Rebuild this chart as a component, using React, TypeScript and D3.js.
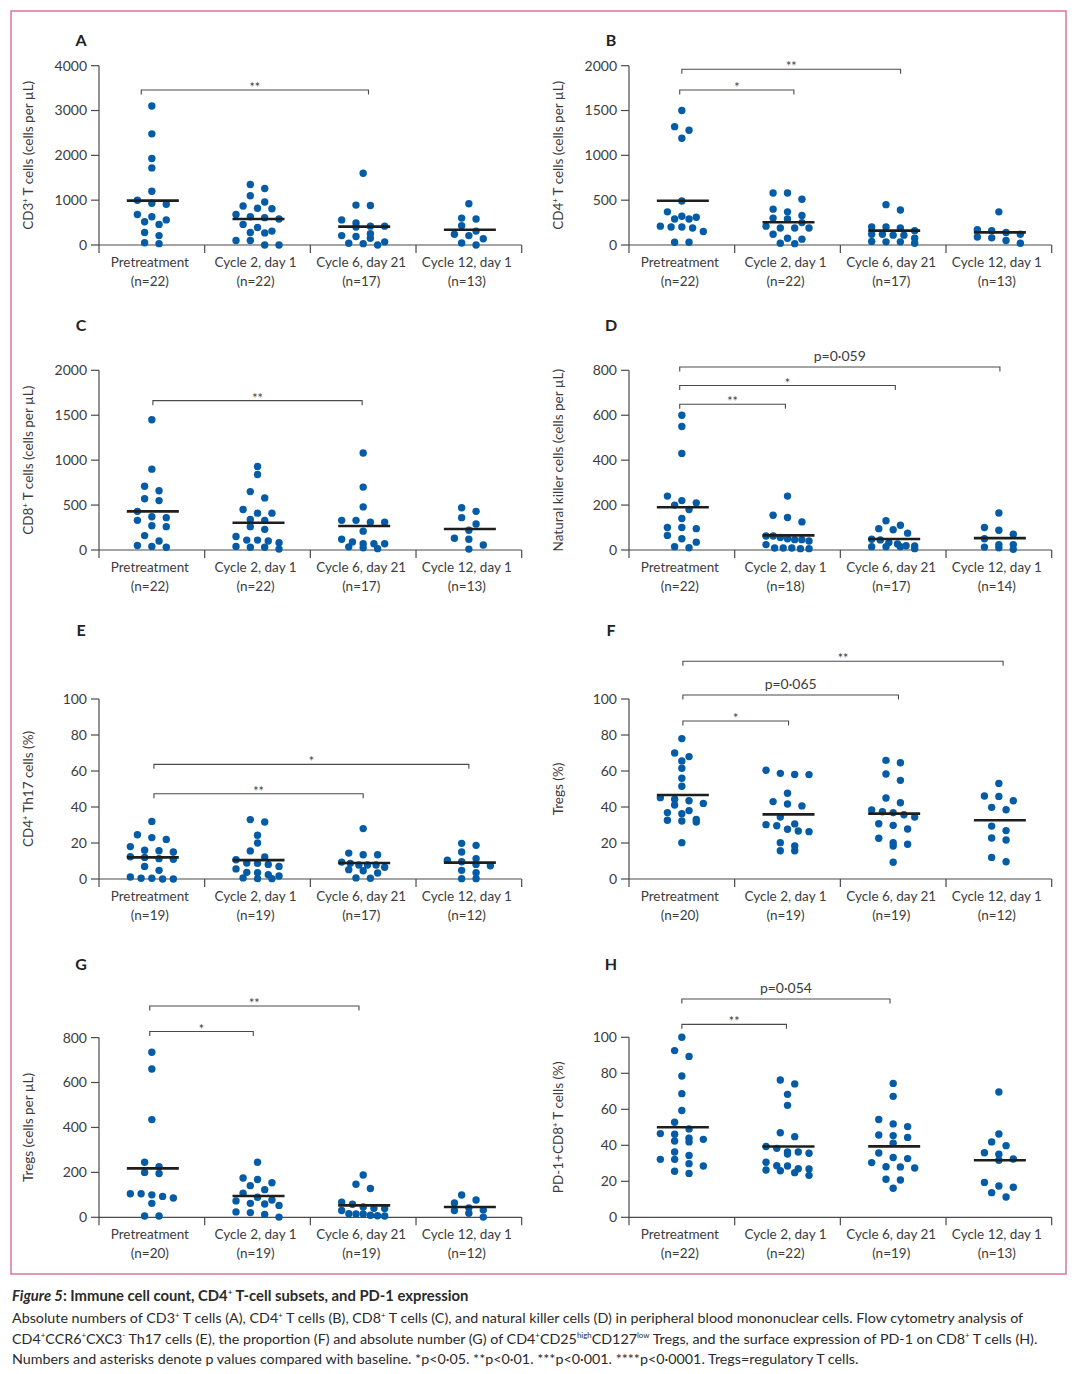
import React from "react";
import * as d3 from "d3";

const CATEGORIES = ["Pretreatment", "Cycle 2, day 1", "Cycle 6, day 21", "Cycle 12, day 1"];

// ---- Panel A: CD3+ T cells ----
const cd3Values = [
  [3100, 2480, 1930, 1720, 1200, 1000, 930, 910, 680, 630, 560, 520, 460, 280, 210, 50, 30],
  [1350, 1260, 1100, 960, 870, 820, 810, 680, 630, 610, 580, 460, 390, 310, 280, 270, 100, 100, 0, 0],
  [1600, 890, 880, 560, 490, 420, 420, 400, 250, 210, 190, 150, 70, 40, 30, 0],
  [920, 600, 580, 430, 310, 240, 210, 140, 45, 0],
];
const cd3Medians = [990, 580, 410, 340];
const cd3N = [22, 22, 17, 13];
const cd3Ticks = [0, 1000, 2000, 3000, 4000];
const cd3Brackets = [{ from: -0.1, to: 2.05, y: 3458, label: "**" }];

// ---- Panel B: CD4+ T cells ----
const cd4Values = [
  [1500, 1320, 1280, 1190, 490, 370, 320, 310, 290, 290, 210, 200, 200, 190, 150, 30, 30],
  [580, 580, 510, 400, 370, 330, 300, 290, 250, 210, 190, 190, 190, 120, 75, 65, 20, 15],
  [450, 390, 200, 200, 190, 160, 120, 120, 110, 110, 75, 40, 35, 35, 20],
  [370, 170, 160, 140, 120, 90, 80, 50, 20],
];
const cd4Medians = [494, 253, 160, 141];
const cd4N = [22, 22, 17, 13];
const cd4Ticks = [0, 500, 1000, 1500, 2000];
const cd4Brackets = [
  { from: 0, to: 2.07, y: 1960, label: "**" },
  { from: -0.02, to: 1.06, y: 1729, label: "*" },
];

// ---- Panel C: CD8+ T cells ----
const cd8Values = [
  [1450, 900, 710, 660, 570, 550, 430, 370, 360, 330, 270, 260, 160, 100, 50, 40, 30],
  [930, 840, 650, 580, 450, 410, 410, 340, 330, 260, 230, 150, 110, 110, 100, 80, 40, 30, 30, 10],
  [1080, 700, 480, 330, 330, 310, 310, 210, 120, 90, 70, 70, 70, 35, 25, 15],
  [470, 430, 360, 290, 220, 130, 120, 55, 10],
];
const cd8Medians = [430, 304, 267, 234];
const cd8N = [22, 22, 17, 13];
const cd8Ticks = [0, 500, 1000, 1500, 2000];
const cd8Brackets = [{ from: 0.01, to: 1.99, y: 1662, label: "**" }];

// ---- Panel D: Natural killer cells ----
const nkValues = [
  [600, 550, 430, 240, 220, 210, 200, 180, 140, 100, 100, 95, 65, 50, 35, 15, 10],
  [240, 155, 145, 125, 62, 62, 56, 50, 46, 46, 40, 24, 9, 9, 9, 6, 6],
  [130, 110, 95, 90, 75, 48, 45, 33, 27, 19, 18, 15, 15, 15, 6],
  [165, 100, 88, 70, 50, 24, 24, 13, 10, 3],
];
const nkMedians = [190, 65, 49, 53];
const nkN = [22, 18, 17, 14];
const nkTicks = [0, 200, 400, 600, 800];
const nkBrackets = [
  { from: -0.02, to: 3.01, y: 815, label: "p=0·059" },
  { from: -0.02, to: 2.02, y: 732, label: "*" },
  { from: -0.02, to: 0.98, y: 649, label: "**" },
];

// ---- Panel E: CD4+ Th17 cells (%) ----
const th17Values = [
  [32, 24.6, 23, 22, 18, 16, 15.7, 15, 12.4, 12, 11.3, 11, 7, 4.8, 1.1, 0.4, 0.4, 0, 0],
  [33, 31.7, 24.3, 20, 15.6, 12.2, 10.7, 8.9, 8.7, 8.1, 7, 5.6, 3.7, 3.5, 2.4, 1.7, 0.6, 0.2, 0.2],
  [28, 14.4, 13.5, 13.5, 9.4, 8.7, 7.8, 7.8, 7.8, 6.5, 5.2, 4.6, 3.3, 0.6, 0.4],
  [19.8, 18.7, 15, 11.3, 10.4, 9.6, 8.1, 7.4, 4.8, 3.5, 0.2, 0.2],
];
const th17Medians = [12, 10.5, 8.9, 9.1];
const th17N = [19, 19, 17, 12];
const pctTicks = [0, 20, 40, 60, 80, 100];
const th17Brackets = [
  { from: 0.02, to: 3.0, y: 63.7, label: "*" },
  { from: 0.02, to: 2.0, y: 47.4, label: "**" },
];

// ---- Panel F: Tregs (%) ----
const tregPctValues = [
  [78, 70, 68, 65.6, 61.5, 56, 51.5, 45.2, 44.3, 43.5, 42, 41.1, 38, 36.9, 36.3, 33.1, 32.6, 32.2, 31.7, 20.2],
  [60.4, 58.7, 58.1, 58, 47.6, 43, 41.7, 40.6, 34.4, 30.6, 30.2, 29.6, 27.6, 26.7, 26.3, 20.2, 18.3, 15.7, 15.7],
  [65.9, 64.6, 58.3, 54.8, 45, 42.4, 38.3, 37.4, 36.9, 35.7, 34.4, 30.7, 29.8, 27.8, 22.6, 20.2, 19.3, 18.3, 9.3],
  [53.1, 46.1, 45.9, 43.5, 39.8, 38.5, 29.4, 26.9, 22.8, 21.7, 12, 9.6],
];
const tregPctMedians = [46.7, 35.9, 36.3, 32.6];
const tregPctN = [20, 19, 19, 12];
const tregPctBrackets = [
  { from: 0.01, to: 3.04, y: 121, label: "**" },
  { from: 0.01, to: 2.05, y: 102.2, label: "p=0·065" },
  { from: 0.01, to: 1.01, y: 87.8, label: "*" },
];

// ---- Panel G: Tregs (cells per µL) ----
const tregAbsValues = [
  [735, 660, 435, 245, 225, 200, 195, 105, 105, 100, 93, 86, 62, 6, 6],
  [245, 175, 168, 154, 141, 123, 107, 89, 77, 73, 62, 59, 53, 24, 21, 13, 1],
  [188, 147, 128, 67, 58, 46, 40, 39, 30, 16, 15, 15, 9, 7, 6],
  [99, 77, 64, 42, 33, 30, 18, 1],
];
const tregAbsMedians = [218, 95, 53, 46];
const tregAbsN = [20, 19, 19, 12];
const tregAbsTicks = [0, 200, 400, 600, 800];
const tregAbsBrackets = [
  { from: -0.02, to: 1.96, y: 941, label: "**" },
  { from: -0.02, to: 0.96, y: 827, label: "*" },
];

// ---- Panel H: PD-1+CD8+ T cells (%) ----
const pd1Values = [
  [100, 92.6, 89.4, 78.5, 68.7, 59.3, 52.8, 49.1, 46.5, 46.1, 43.9, 43.3, 42.4, 41.9, 36.3, 34.3, 32.2, 32.2, 29.8, 28.5, 25.6, 24.4],
  [76.3, 74.1, 68.3, 62.2, 47, 44.8, 39.3, 38.3, 36.3, 36.3, 35.6, 35.2, 30.6, 28.7, 28.5, 27, 26.9, 26.3, 25.9, 24.8, 23.3],
  [74.4, 67.2, 54.3, 51.9, 50.4, 45.7, 45.4, 44.4, 41.1, 35.7, 33.2, 32.6, 30.4, 28.1, 28, 27.4, 21.1, 20.7, 16.1],
  [69.6, 46.3, 41.9, 39.8, 35.9, 35, 32.4, 31.7, 19.4, 17.4, 16.7, 13.7, 11.3],
];
const pd1Medians = [50, 39.3, 39.4, 31.7];
const pd1N = [22, 22, 19, 13];
const pd1Brackets = [
  { from: 0, to: 1.97, y: 121.3, label: "p=0·054" },
  { from: 0, to: 0.99, y: 107.2, label: "**" },
];

const CAPTION_TITLE = "Immune cell count, CD4^{+} T-cell subsets, and PD-1 expression";
const CAPTION_LINES = [
  "Absolute numbers of CD3^{+} T cells (A), CD4^{+} T cells (B), CD8^{+} T cells (C), and natural killer cells (D) in peripheral blood mononuclear cells. Flow cytometry analysis of",
  "CD4^{+}CCR6^{+}CXC3^{-} Th17 cells (E), the proportion (F) and absolute number (G) of CD4^{+}CD25^{high}CD127^{low} Tregs, and the surface expression of PD-1 on CD8^{+} T cells (H).",
  "Numbers and asterisks denote p values compared with baseline. *p<0·05. **p<0·01. ***p<0·001. ****p<0·0001. Tregs=regulatory T cells.",
];

// ---------- styling ----------
const FONT = "Lato, 'Open Sans', sans-serif";
const DOT = "#045ba6";
const AXIS = "#4a4a4a";
const TEXT = "#3c3c3c";
const DOT_R = 3.7;

function rich(str: string, size: number, keyBase: string) {
  const parts = str.split(/\^\{([^}]*)\}/);
  const out: any[] = [];
  let shifted = false;
  parts.forEach((p, i) => {
    if (i % 2 === 0) {
      if (p.length === 0) return;
      out.push(
        <tspan key={keyBase + i} dy={shifted ? size * 0.38 : 0}>{p}</tspan>
      );
      shifted = false;
    } else {
      out.push(
        <tspan key={keyBase + i} dy={shifted ? 0 : -size * 0.38} fontSize={size * 0.55}>{p}</tspan>
      );
      shifted = true;
    }
  });
  if (shifted) out.push(<tspan key={keyBase + "end"} dy={size * 0.38}>{"\u200b"}</tspan>);
  return out;
}

// Prism-like row layout of points around the category centre
function swarm(values: number[], y: (v: number) => number) {
  const d = DOT_R * 2;
  const sorted = values.map((v) => ({ v, py: y(v) })).sort((a, b) => a.py - b.py);
  const rows: { v: number; py: number }[][] = [];
  let cur: { v: number; py: number }[] = [];
  let start = -Infinity;
  sorted.forEach((p) => {
    if (p.py - start > d * 0.95) {
      if (cur.length) rows.push(cur);
      cur = [p];
      start = p.py;
    } else cur.push(p);
  });
  if (cur.length) rows.push(cur);
  const out: { v: number; py: number; dx: number }[] = [];
  rows.forEach((row) => {
    const n = row.length;
    const spacing = n > 1 ? Math.min(d * 1.95, 43 / (n - 1)) : 0;
    row.forEach((p, i) => out.push({ ...p, dx: (i - (n - 1) / 2) * spacing }));
  });
  return out;
}

type Bracket = { from: number; to: number; y: number; label: string };

function Panel(props: {
  letter: string;
  x0: number;
  yTop: number;
  yBottom: number;
  letterY: number;
  max: number;
  ticks: number[];
  values: number[][];
  medians: number[];
  n: number[];
  brackets: Bracket[];
  title: string;
}) {
  const width = 422.7;
  const { x0, yTop, yBottom } = props;
  const y = d3.scaleLinear().domain([0, props.max]).range([yBottom, yTop]);
  const band = d3.scaleBand<string>().domain(CATEGORIES).range([x0, x0 + width]).padding(0);
  const bw = band.bandwidth();
  const cx = (i: number) => (band(CATEGORIES[0]) as number) + (i + 0.5) * bw;
  const midY = (yTop + yBottom) / 2;
  const titleX = x0 - 66;
  return (
    <g>
      <text x={x0 - 18} y={props.letterY} dy="0.35em" textAnchor="middle" fontFamily={FONT} fontWeight={700} fontSize={16} fill="#222">
        {props.letter}
      </text>
      <text
        transform={`translate(${titleX},${midY}) rotate(-90)`}
        textAnchor="middle"
        dy="0.35em"
        fontFamily={FONT}
        fontSize={13.5}
        fill={TEXT}
      >
        {rich(props.title, 13.5, props.letter + "t")}
      </text>
      {/* y axis */}
      <line x1={x0} x2={x0} y1={yTop} y2={yBottom + 8} stroke={AXIS} strokeWidth={1.2} />
      {props.ticks.map((t) => (
        <g key={t}>
          <line x1={x0 - 8} x2={x0} y1={y(t)} y2={y(t)} stroke={AXIS} strokeWidth={1.2} />
          <text x={x0 - 12} y={y(t)} dy="0.35em" textAnchor="end" fontFamily={FONT} fontSize={14} fill={TEXT}>
            {t}
          </text>
        </g>
      ))}
      {/* x axis */}
      <line x1={x0} x2={x0 + width} y1={yBottom} y2={yBottom} stroke={AXIS} strokeWidth={1.2} />
      {CATEGORIES.map((c, i) => (
        <g key={c}>
          <line x1={(band(c) as number) + bw} x2={(band(c) as number) + bw} y1={yBottom} y2={yBottom + 8} stroke={AXIS} strokeWidth={1.2} />
          <text x={cx(i) - 2} y={yBottom + 22} textAnchor="middle" fontFamily={FONT} fontSize={13.5} fill={TEXT}>
            {c}
          </text>
          <text x={cx(i) - 2} y={yBottom + 41} textAnchor="middle" fontFamily={FONT} fontSize={13.5} fill={TEXT}>
            {`(n=${props.n[i]})`}
          </text>
        </g>
      ))}
      {/* points */}
      {props.values.map((vals, i) =>
        swarm(vals, y).map((p, j) => (
          <circle key={i + "-" + j} cx={cx(i) + p.dx} cy={p.py} r={DOT_R} fill={DOT} />
        ))
      )}
      {/* medians */}
      {props.medians.map((m, i) => (
        <line key={"m" + i} x1={cx(i) - 25} x2={cx(i) + 27} y1={y(m)} y2={y(m)} stroke="#1e1e1e" strokeWidth={2.6} />
      ))}
      {/* brackets */}
      {props.brackets.map((b, k) => {
        const xa = cx(b.from);
        const xb = cx(b.to);
        const yy = y(b.y);
        const isP = b.label.startsWith("p");
        return (
          <g key={"b" + k}>
            <path d={`M${xa},${yy + 4.5}V${yy}H${xb}V${yy + 4.5}`} fill="none" stroke={AXIS} strokeWidth={1.1} />
            <text
              x={(xa + xb) / 2}
              y={isP ? yy - 6 : yy + 2}
              textAnchor="middle"
              fontFamily={FONT}
              fontSize={isP ? 14 : 12.5}
              fill={TEXT}
            >
              {b.label}
            </text>
          </g>
        );
      })}
    </g>
  );
}

export default function App() {
  const L = 99;
  const R = 629;
  return (
    <svg width={1080} height={1374} style={{ position: "absolute", left: 0, top: 0, background: "#fff" }}>
      <rect x={0} y={0} width={1080} height={1374} fill="#fff" />
      <rect x={11} y={11} width={1055} height={1263} fill="none" stroke="#e07499" strokeWidth={1.5} />
      <Panel letter="A" x0={L} yTop={65.7} yBottom={245} letterY={40} max={4000} ticks={cd3Ticks}
        values={cd3Values} medians={cd3Medians} n={cd3N} brackets={cd3Brackets} title="CD3^{+} T cells (cells per µL)" />
      <Panel letter="B" x0={R} yTop={65.7} yBottom={245} letterY={40} max={2000} ticks={cd4Ticks}
        values={cd4Values} medians={cd4Medians} n={cd4N} brackets={cd4Brackets} title="CD4^{+} T cells (cells per µL)" />
      <Panel letter="C" x0={L} yTop={370.3} yBottom={550} letterY={325} max={2000} ticks={cd8Ticks}
        values={cd8Values} medians={cd8Medians} n={cd8N} brackets={cd8Brackets} title="CD8^{+} T cells (cells per µL)" />
      <Panel letter="D" x0={R} yTop={370.3} yBottom={550} letterY={325} max={800} ticks={nkTicks}
        values={nkValues} medians={nkMedians} n={nkN} brackets={nkBrackets} title="Natural killer cells (cells per µL)" />
      <Panel letter="E" x0={L} yTop={699} yBottom={879} letterY={630} max={100} ticks={pctTicks}
        values={th17Values} medians={th17Medians} n={th17N} brackets={th17Brackets} title="CD4^{+} Th17 cells (%)" />
      <Panel letter="F" x0={R} yTop={699} yBottom={879} letterY={630} max={100} ticks={pctTicks}
        values={tregPctValues} medians={tregPctMedians} n={tregPctN} brackets={tregPctBrackets} title="Tregs (%)" />
      <Panel letter="G" x0={L} yTop={1037.6} yBottom={1217.3} letterY={964} max={800} ticks={tregAbsTicks}
        values={tregAbsValues} medians={tregAbsMedians} n={tregAbsN} brackets={tregAbsBrackets} title="Tregs (cells per µL)" />
      <Panel letter="H" x0={R} yTop={1037.3} yBottom={1217.3} letterY={964} max={100} ticks={pctTicks}
        values={pd1Values} medians={pd1Medians} n={pd1N} brackets={pd1Brackets} title="PD-1+CD8^{+} T cells (%)" />
      {/* caption */}
      <text x={12} y={1301} fontFamily={FONT} fontSize={14.8} fill="#2a2a2a">
        <tspan fontStyle="italic" fontWeight={700}>Figure 5</tspan>
        <tspan fontWeight={700}>: </tspan>
        <tspan fontWeight={700}>{rich(CAPTION_TITLE, 14.8, "ct")}</tspan>
      </text>
      {CAPTION_LINES.map((line, i) => (
        <text key={i} x={12} y={1323 + i * 20.5} fontFamily={FONT} fontSize={14.3} fill="#2a2a2a">
          {rich(line, 14.3, "cl" + i)}
        </text>
      ))}
    </svg>
  );
}
